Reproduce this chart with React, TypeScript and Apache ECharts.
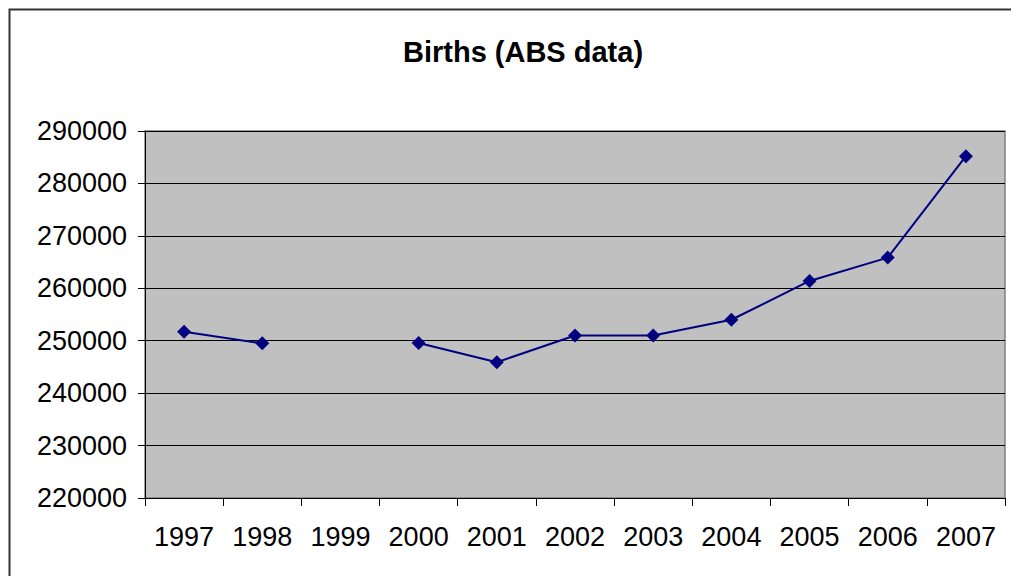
import React, { useEffect, useRef } from "react";
import * as echarts from "echarts";

const years = ["1997", "1998", "1999", "2000", "2001", "2002", "2003", "2004", "2005", "2006", "2007"];
const births: (number | null)[] = [251700, 249500, null, 249550, 245900, 251000, 251000, 254000, 261400, 265850, 285200];
const yMin = 220000;
const yMax = 290000;
const yStep = 10000;

export default function App() {
  const ref = useRef<HTMLDivElement>(null);
  useEffect(() => {
    document.body.style.margin = "0";
    const chart = echarts.init(ref.current!, null, { renderer: "svg" });
    const font = "'Liberation Sans', Arial, sans-serif";
    chart.setOption({
      animation: false,
      backgroundColor: "#ffffff",
      title: {
        text: "Births (ABS data)",
        left: 518,
        top: 32,
        textAlign: "center",
        textStyle: { fontFamily: font, fontSize: 29, fontWeight: "bold", color: "#000" },
      },
      graphic: [
        {
          type: "rect",
          shape: { x: 9.5, y: 9.5, width: 1100, height: 700 },
          style: { fill: "none", stroke: "#333", lineWidth: 2 },
          z: 100,
          silent: true,
        },
      ],
      grid: {
        left: 145,
        top: 131,
        right: 6,
        bottom: 78,
        show: true,
        backgroundColor: "#C0C0C0",
        borderColor: "#808080",
        borderWidth: 1.5,
      },
      xAxis: {
        type: "category",
        data: years,
        boundaryGap: true,
        axisLine: { show: true, lineStyle: { color: "#000", width: 1 } },
        axisTick: { show: true, length: 8, alignWithLabel: false, lineStyle: { color: "#000" } },
        axisLabel: { fontFamily: font, fontSize: 27, color: "#000", margin: 25, interval: 0 },
        splitLine: { show: false },
      },
      yAxis: {
        type: "value",
        min: yMin,
        max: yMax,
        interval: yStep,
        axisLine: { show: true, lineStyle: { color: "#000", width: 1 } },
        axisTick: { show: true, length: 7, lineStyle: { color: "#000" } },
        axisLabel: {
          fontFamily: font,
          fontSize: 27,
          color: "#000",
          margin: 18,
          formatter: (v: number) => String(v),
        },
        splitLine: { show: true, lineStyle: { color: "#000", width: 1 } },
      },
      series: [
        {
          type: "line",
          data: births,
          connectNulls: false,
          symbol: "diamond",
          symbolSize: 14,
          itemStyle: { color: "#000080" },
          lineStyle: { color: "#000080", width: 2 },
        },
      ],
    });
    return () => chart.dispose();
  }, []);
  return <div ref={ref} style={{ width: 1011, height: 576 }} />;
}
